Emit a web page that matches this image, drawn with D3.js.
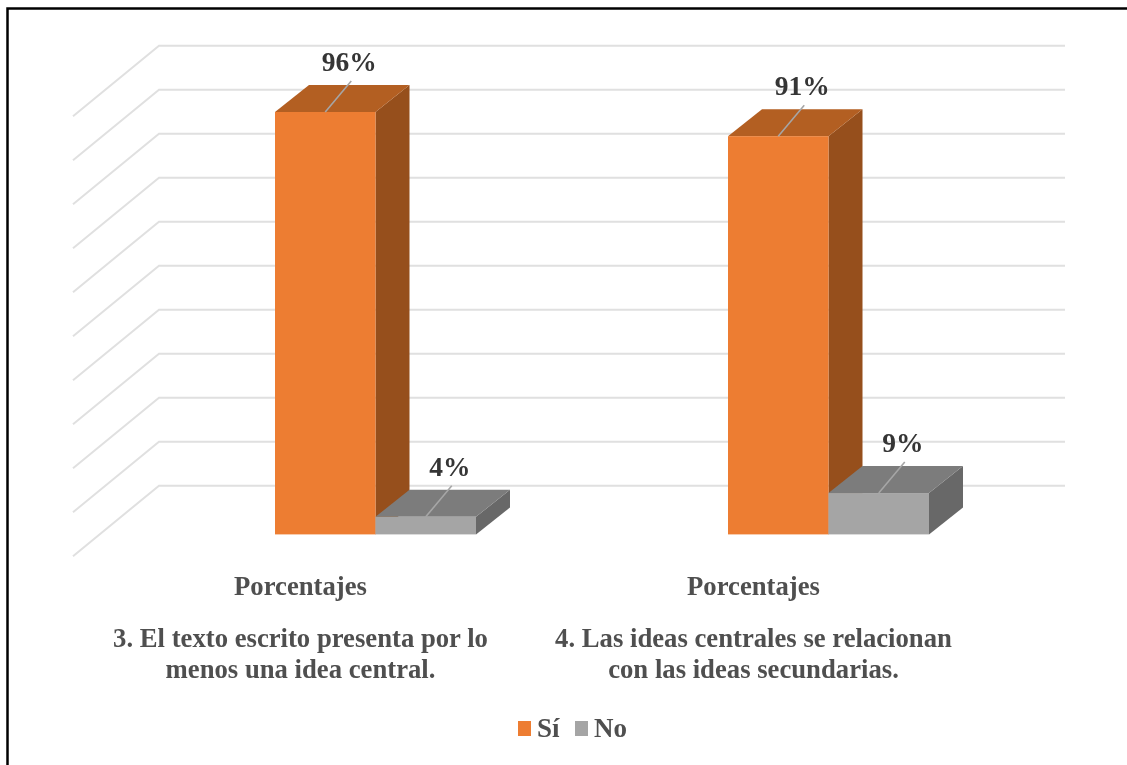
<!DOCTYPE html>
<html><head><meta charset="utf-8">
<script src="https://cdn.jsdelivr.net/npm/d3@7/dist/d3.min.js"></script>
<style>html,body{margin:0;padding:0;background:#fff;overflow:hidden}svg{display:block}text{font-family:"Liberation Serif",serif;font-weight:bold}</style>
</head><body><svg id="c" width="1127" height="765"></svg>
<script>
const groups = ["g3", "g4"];
const axisLabel = ["Porcentajes", "Porcentajes"];
const questionLines = [
  ["3. El texto escrito presenta por lo", "menos una idea central."],
  ["4. Las ideas centrales se relacionan", "con las ideas secundarias."]
];
const seriesNames = ["Sí", "No"];
const siValues = [96, 90.5];
const noValues = [4, 9.4];
const gridTicks = [0,10,20,30,40,50,60,70,80,90,100];
const faceColors = {
  "Sí": {front:"#ED7D31", top:"#B35E22", side:"#964F1B"},
  "No": {front:"#A5A5A5", top:"#7C7C7C", side:"#686868"}
};
const svg = d3.select("#c");
const defs = svg.append("defs");
defs.append("filter").attr("id","soft").append("feGaussianBlur").attr("stdDeviation",0.45);
const root = svg.append("g").attr("filter","url(#soft)");
const y = d3.scaleLinear().domain([0,100]).range([534.4,94.4]);
const x = d3.scaleBand().domain(groups).range([149,1055]);
const sub = d3.scaleBand().domain(seriesNames).range([-100.5,100.5]);
const depthX = 34, depthY = 27;
const wallDrop = 48.7, wallL = 159, wallR = 1065, sideDX = 86, sideDY = 70.5;

root.append("rect").attr("x",0).attr("y",0).attr("width",1127).attr("height",765).attr("fill","#fff");
root.append("rect").attr("x",7.5).attr("y",8.5).attr("width",1125).attr("height",765)
  .attr("fill","#fff").attr("stroke","#000").attr("stroke-width",2.5);

const grid = root.append("g").attr("fill","none").attr("stroke","#E0E0E0").attr("stroke-width",2);
grid.selectAll("path").data(gridTicks).join("path").attr("d",t=>{
  const g = y(t)-wallDrop;
  return d3.line()([[wallL-sideDX,g+sideDY],[wallL,g],[wallR,g]]);
});

const bars = [];
groups.forEach((g,i)=>{
  bars.push({g,s:"Sí",v:siValues[i]});
  bars.push({g,s:"No",v:noValues[i]});
});
const line = d3.line();
const bg = root.append("g").selectAll("g").data(bars).join("g");
function geom(d){
  const c = x(d.g)+x.bandwidth()/2;
  return {x0:c+sub(d.s),x1:c+sub(d.s)+sub.bandwidth(),yt:y(d.v),yb:y(0)};
}
bg.append("path").attr("fill",d=>faceColors[d.s].side).attr("d",d=>{const q=geom(d);
  return line([[q.x1,q.yt],[q.x1+depthX,q.yt-depthY],[q.x1+depthX,q.yb-depthY],[q.x1,q.yb]])+"Z";});
bg.append("path").attr("fill",d=>faceColors[d.s].top).attr("d",d=>{const q=geom(d);
  return line([[q.x0,q.yt],[q.x0+depthX,q.yt-depthY],[q.x1+depthX,q.yt-depthY],[q.x1,q.yt]])+"Z";});
bg.append("rect").attr("fill",d=>faceColors[d.s].front)
  .attr("x",d=>geom(d).x0).attr("y",d=>geom(d).yt)
  .attr("width",d=>geom(d).x1-geom(d).x0).attr("height",d=>geom(d).yb-geom(d).yt);
// leader lines
root.append("g").selectAll("line").data(bars).join("line")
  .attr("stroke","#A6A6A6").attr("stroke-width",1.6)
  .attr("x1",d=>(geom(d).x0+geom(d).x1)/2).attr("y1",d=>geom(d).yt)
  .attr("x2",d=>(geom(d).x0+geom(d).x1)/2+26).attr("y2",d=>geom(d).yt-31);
root.append("g").selectAll("text").data(bars).join("text")
  .attr("text-anchor","middle").attr("fill","#363636").attr("font-size",27.5)
  .attr("x",d=>(geom(d).x0+geom(d).x1)/2+24).attr("y",d=>geom(d).yt-41)
  .text(d=>Math.round(d.v)+"%");

const labelCx = g => x(g)+x.bandwidth()/2-75;
root.append("g").selectAll("text").data(groups).join("text")
  .attr("text-anchor","middle").attr("fill","#505050").attr("font-size",26.7)
  .attr("x",labelCx).attr("y",595).text((d,i)=>axisLabel[i]);
groups.forEach((g,i)=>{
  root.append("g").selectAll("text").data(questionLines[i]).join("text")
    .attr("text-anchor","middle").attr("fill","#505050").attr("font-size",26.7)
    .attr("x",labelCx(g)).attr("y",(d,j)=>647+j*31).text(d=>d);
});

const legendX = d3.scaleOrdinal().domain(seriesNames).range([518,575]);
const lg = root.append("g").selectAll("g").data(seriesNames).join("g");
lg.append("rect").attr("x",d=>legendX(d)).attr("y",721).attr("width",13).attr("height",15)
  .attr("fill",d=>faceColors[d].front);
lg.append("text").attr("x",d=>legendX(d)+19).attr("y",737).attr("fill","#505050").attr("font-size",27).text(d=>d);
</script></body></html>
